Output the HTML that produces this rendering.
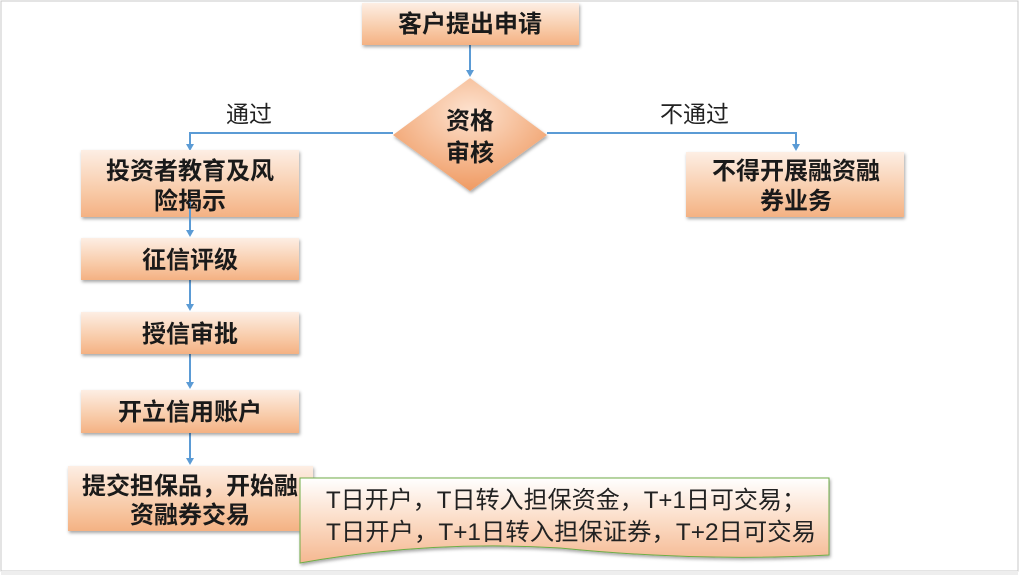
<!DOCTYPE html>
<html><head><meta charset="utf-8"><style>
html,body{margin:0;padding:0;background:#fff}
svg{display:block}
text{font-family:"Liberation Sans","Noto Sans CJK SC",sans-serif}
.b{font-size:24px;font-weight:bold;fill:#1a1a1a}
</style></head><body>
<svg width="1019" height="575" viewBox="0 0 1019 575" xmlns="http://www.w3.org/2000/svg">
<defs>
<linearGradient id="g" x1="0" y1="0" x2="0" y2="1">
<stop offset="0" stop-color="#fdeee4"/><stop offset="0.6" stop-color="#f8cba9"/><stop offset="1" stop-color="#f4b183"/>
</linearGradient>
<radialGradient id="dg" cx="0.5" cy="0.3" r="0.7">
<stop offset="0" stop-color="#fde2cf"/><stop offset="1" stop-color="#ef9a62"/>
</radialGradient>
<linearGradient id="cg" x1="0" y1="0" x2="0" y2="1">
<stop offset="0" stop-color="#ffffff"/><stop offset="0.5" stop-color="#fbdcc6"/><stop offset="1" stop-color="#f5b891"/>
</linearGradient>
<filter id="s" x="-10%" y="-10%" width="120%" height="130%"><feDropShadow dx="1" dy="2" stdDeviation="1.5" flood-color="#000" flood-opacity="0.35"/></filter>
</defs>
<rect x="1" y="1" width="1017" height="570" fill="#fff" stroke="#c8c8c8"/>
<rect x="1" y="571" width="1017" height="4" fill="#eee"/>
<g stroke="#5b9bd5" stroke-width="2" fill="none">
<path d="M470 45 V72"/><path d="M466 70 L470 77 L474 70z" fill="#5b9bd5" stroke="none"/>
<path d="M393 133 H190 V146"/><path d="M186 144 L190 151 L194 144z" fill="#5b9bd5" stroke="none"/>
<path d="M547 133 H796 V146"/><path d="M792 144 L796 151 L800 144z" fill="#5b9bd5" stroke="none"/>
<path d="M190 280 V306"/><path d="M186 304 L190 311 L194 304z" fill="#5b9bd5" stroke="none"/>
<path d="M190 354 V384"/><path d="M186 382 L190 389 L194 382z" fill="#5b9bd5" stroke="none"/>
<path d="M190 433 V460"/><path d="M186 458 L190 465 L194 458z" fill="#5b9bd5" stroke="none"/>
</g>
<g filter="url(#s)">
<rect x="362" y="3" width="217" height="42" fill="url(#g)"/>
<path d="M470 78 L547 135 L470 191 L393 135z" fill="url(#dg)"/>
<rect x="81" y="150" width="218" height="67" fill="url(#g)"/>
<rect x="686" y="152" width="218" height="65" fill="url(#g)"/>
<rect x="81" y="238" width="218" height="42" fill="url(#g)"/>
<rect x="81" y="312" width="218" height="42" fill="url(#g)"/>
<rect x="81" y="390" width="218" height="43" fill="url(#g)"/>
<rect x="68" y="466" width="245" height="65" fill="url(#g)"/>
<path d="M300 478 H829 V555 Q700 562 560 548 Q430 540 300 563 Z" fill="url(#cg)" stroke="#70ad47" stroke-width="1"/>
</g>
<g stroke="#5b9bd5" stroke-width="2" fill="none">
<path d="M190 195 V232"/><path d="M186 230 L190 237 L194 230z" fill="#5b9bd5" stroke="none"/>
</g>
<g class="b" text-anchor="middle">
<text x="470" y="32">客户提出申请</text>
<text x="470" y="129">资格</text><text x="470" y="161">审核</text>
<text x="190" y="179">投资者教育及风</text><text x="190" y="209">险揭示</text>
<text x="796" y="179">不得开展融资融</text><text x="796" y="209">券业务</text>
<text x="190" y="268">征信评级</text>
<text x="190" y="342">授信审批</text>
<text x="190" y="420">开立信用账户</text>
<text x="190" y="494">提交担保品，开始融</text><text x="190" y="523">资融券交易</text>
</g>
<g font-size="23" fill="#222">
<text x="226" y="122">通过</text>
<text x="660" y="122">不通过</text>
<text x="326" y="508" style="font-size:24px" textLength="480" lengthAdjust="spacingAndGlyphs">T日开户，T日转入担保资金，T+1日可交易；</text>
<text x="326" y="540" style="font-size:24px" textLength="490" lengthAdjust="spacingAndGlyphs">T日开户，T+1日转入担保证券，T+2日可交易</text>
</g>
</svg>
</body></html>
